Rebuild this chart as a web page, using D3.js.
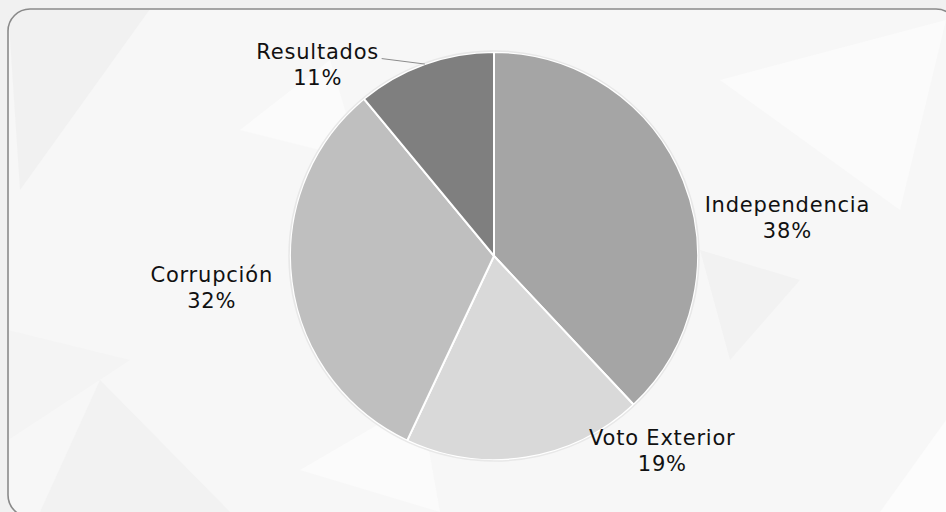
<!DOCTYPE html>
<html>
<head>
<meta charset="utf-8">
<script src="https://cdn.jsdelivr.net/npm/d3@7"></script>
<style>
  html, body { margin: 0; padding: 0; background: #f2f2f2; }
  svg { display: block; }
</style>
</head>
<body>
<script>
// data
const categories = ['Independencia', 'Voto Exterior', 'Corrupción', 'Resultados']
const shares = [38, 19, 32, 11]
const colors = ['#a5a5a5', '#d9d9d9', '#bfbfbf', '#7f7f7f']
// label placement, polar around the pie centre (degrees clockwise from 12 o'clock, px)
const labelAngle = [82.4, 139.1, 263.7, 317.5]
const labelDist = [296, 257, 284, 261]

const W = 946, H = 512
const cx = 494, cy = 256, R = 204

const svg = d3.select('body').append('svg').attr('width', W).attr('height', H)

// faint faceted background
const bg = svg.append('g')
bg.append('rect').attr('width', W).attr('height', H).attr('fill', '#f1f1f1')
bg.append('rect').attr('x', 8).attr('y', 9).attr('width', 950).attr('height', 508)
  .attr('rx', 22).attr('fill', '#f7f7f7')
const facets = [
  { pts: [[8, 9], [150, 9], [20, 190]], fill: '#f1f1f1' },
  { pts: [[720, 80], [946, 20], [900, 210]], fill: '#fbfbfb' },
  { pts: [[240, 130], [330, 60], [360, 160]], fill: '#fbfbfb' },
  { pts: [[700, 250], [800, 280], [730, 360]], fill: '#f2f2f2' },
  { pts: [[100, 380], [230, 512], [40, 512]], fill: '#f2f2f2' },
  { pts: [[880, 512], [946, 420], [946, 512]], fill: '#fcfcfc' },
  { pts: [[300, 470], [420, 400], [440, 512]], fill: '#fbfbfb' },
  { pts: [[8, 330], [130, 360], [8, 440]], fill: '#f4f4f4' }
]
bg.selectAll('polygon').data(facets).join('polygon')
  .attr('points', d => d.pts.map(p => p.join(',')).join(' '))
  .attr('fill', d => d.fill)
bg.append('rect').attr('x', 8).attr('y', 9).attr('width', 950).attr('height', 508)
  .attr('rx', 22).attr('fill', 'none').attr('stroke', '#8a8a8a').attr('stroke-width', 1.6)

const pie = d3.pie().sort(null).value(d => d)
const arcs = pie(shares)
const arc = d3.arc().innerRadius(0).outerRadius(R)

const g = svg.append('g').attr('transform', `translate(${cx},${cy})`)

g.selectAll('path.slice').data(arcs).join('path')
  .attr('class', 'slice')
  .attr('d', arc)
  .attr('fill', (d, i) => colors[i])
  .attr('stroke', '#ffffff')
  .attr('stroke-width', 2)
  .attr('stroke-linejoin', 'round')

// light rim round the pie
g.append('circle').attr('r', R + 1).attr('fill', 'none')
  .attr('stroke', '#e8e8e8').attr('stroke-width', 1.5)

const rad = a => a * Math.PI / 180
const labels = arcs.map((d, i) => ({
  name: categories[i],
  pct: Math.round(d.value) + '%',
  x: labelDist[i] * Math.sin(rad(labelAngle[i])),
  y: -labelDist[i] * Math.cos(rad(labelAngle[i])),
  mid: (d.startAngle + d.endAngle) / 2
}))

// leader line for the small slice
const small = labels[3]
const edge = [R * Math.sin(small.mid), -R * Math.cos(small.mid)]
g.append('polyline')
  .attr('points', `${small.x + 64},${small.y - 5} ${edge[0]},${edge[1]}`)
  .attr('fill', 'none').attr('stroke', '#8c8c8c').attr('stroke-width', 1)

const txt = g.selectAll('text.lbl').data(labels).join('text')
  .attr('class', 'lbl')
  .attr('text-anchor', 'middle')
  .attr('font-family', 'Verdana, "DejaVu Sans", sans-serif')
  .attr('font-size', 21)
  .attr('letter-spacing', 0.8)
  .attr('fill', '#111111')
txt.append('tspan').attr('x', d => d.x).attr('y', d => d.y - 5).text(d => d.name)
txt.append('tspan').attr('x', d => d.x).attr('y', d => d.y + 21).text(d => d.pct)
</script>
</body>
</html>
